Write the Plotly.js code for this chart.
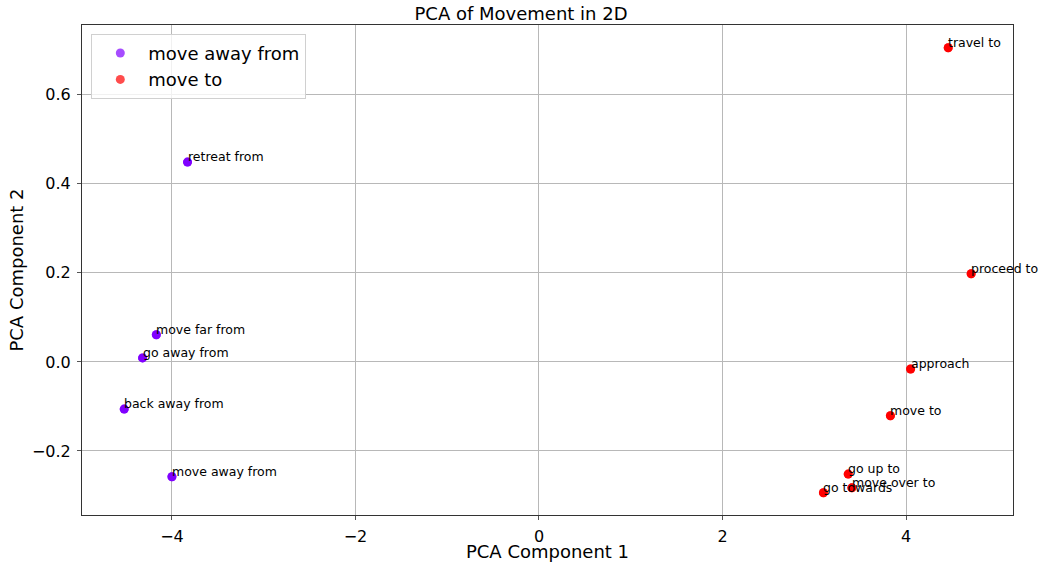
<!DOCTYPE html>
<html><head><meta charset="utf-8">
<script src="https://cdn.plot.ly/plotly-3.0.1.min.js"></script>
<style>html,body{margin:0;padding:0;background:#fff}#chart{width:1042px;height:562px}</style>
</head><body><div id="chart"></div>
<script>
const awayLabels = ["retreat from","move far from","go away from","back away from","move away from"];
const awayX = [-3.83,-4.17,-4.32,-4.52,-4.00];
const awayY = [0.449,0.061,0.009,-0.106,-0.258];
const toLabels = ["travel to","proceed to","approach","move to","go up to","move over to","go towards"];
const toX = [4.46,4.71,4.05,3.83,3.37,3.41,3.10];
const toY = [0.706,0.198,-0.016,-0.121,-0.252,-0.283,-0.294];
const groupNames = ["move away from","move to"];
const groupColors = ["rgb(128,0,255)","rgb(255,0,0)"];
const xTicks = [-4,-2,0,2,4];
const yTicks = [-0.2,0,0.2,0.4,0.6];

const font = "DejaVu Sans, sans-serif";
const groups = [[awayX,awayY,awayLabels],[toX,toY,toLabels]];
const traces = [];
groups.forEach((g,i)=>{
  traces.push({x:g[0],y:g[1],mode:"markers",type:"scatter",name:groupNames[i],showlegend:false,
    marker:{color:groupColors[i],size:9},hoverinfo:"skip"});
});
groups.forEach((g,i)=>{
  traces.push({x:g[0],y:g[1],mode:"markers",type:"scatter",name:groupNames[i],showlegend:true,
    marker:{color:groupColors[i],size:9,opacity:0.7},hoverinfo:"skip"});
});
const annotations = [];
groups.forEach(g=>{
  g[2].forEach((t,k)=>{
    annotations.push({x:g[0][k],y:g[1][k],xref:"x",yref:"y",text:t,showarrow:false,
      xanchor:"left",yanchor:"bottom",borderpad:0,yshift:-3,xshift:-1,
      font:{family:font,size:12.5,color:"#000"}});
  });
});
const axisCommon = {showline:true,linecolor:"#333",linewidth:1,mirror:true,ticks:"outside",ticklen:4,
  tickcolor:"#555",showgrid:true,gridcolor:"#b8b8b8",gridwidth:1,zeroline:false,ticklabelstandoff:3,
  tickfont:{family:font,size:16,color:"#000"}};
const layout = {
  width:1042,height:562,paper_bgcolor:"#fff",plot_bgcolor:"#fff",
  margin:{l:82,r:29,t:25,b:47},
  title:{text:"PCA of Movement in 2D",font:{family:font,size:18,color:"#000"},x:0.5,xanchor:"center",y:0.975,yanchor:"middle"},
  xaxis:Object.assign({},axisCommon,{range:[-4.98,5.166],tickvals:xTicks,
    title:{text:"PCA Component 1",font:{family:font,size:18,color:"#000"},standoff:6}}),
  yaxis:Object.assign({},axisCommon,{range:[-0.344,0.757],tickvals:yTicks,tickformat:".1f",
    title:{text:"PCA Component 2",font:{family:font,size:18,color:"#000"},standoff:3}}),
  legend:{x:0.01,y:0.982,xanchor:"left",yanchor:"top",bgcolor:"rgba(255,255,255,0.8)",bordercolor:"#d0d0d0",borderwidth:1,
    font:{family:font,size:18,color:"#000"},itemwidth:46},
  annotations:annotations,showlegend:true
};
Plotly.newPlot("chart",traces,layout,{displayModeBar:false,staticPlot:true});
</script></body></html>
